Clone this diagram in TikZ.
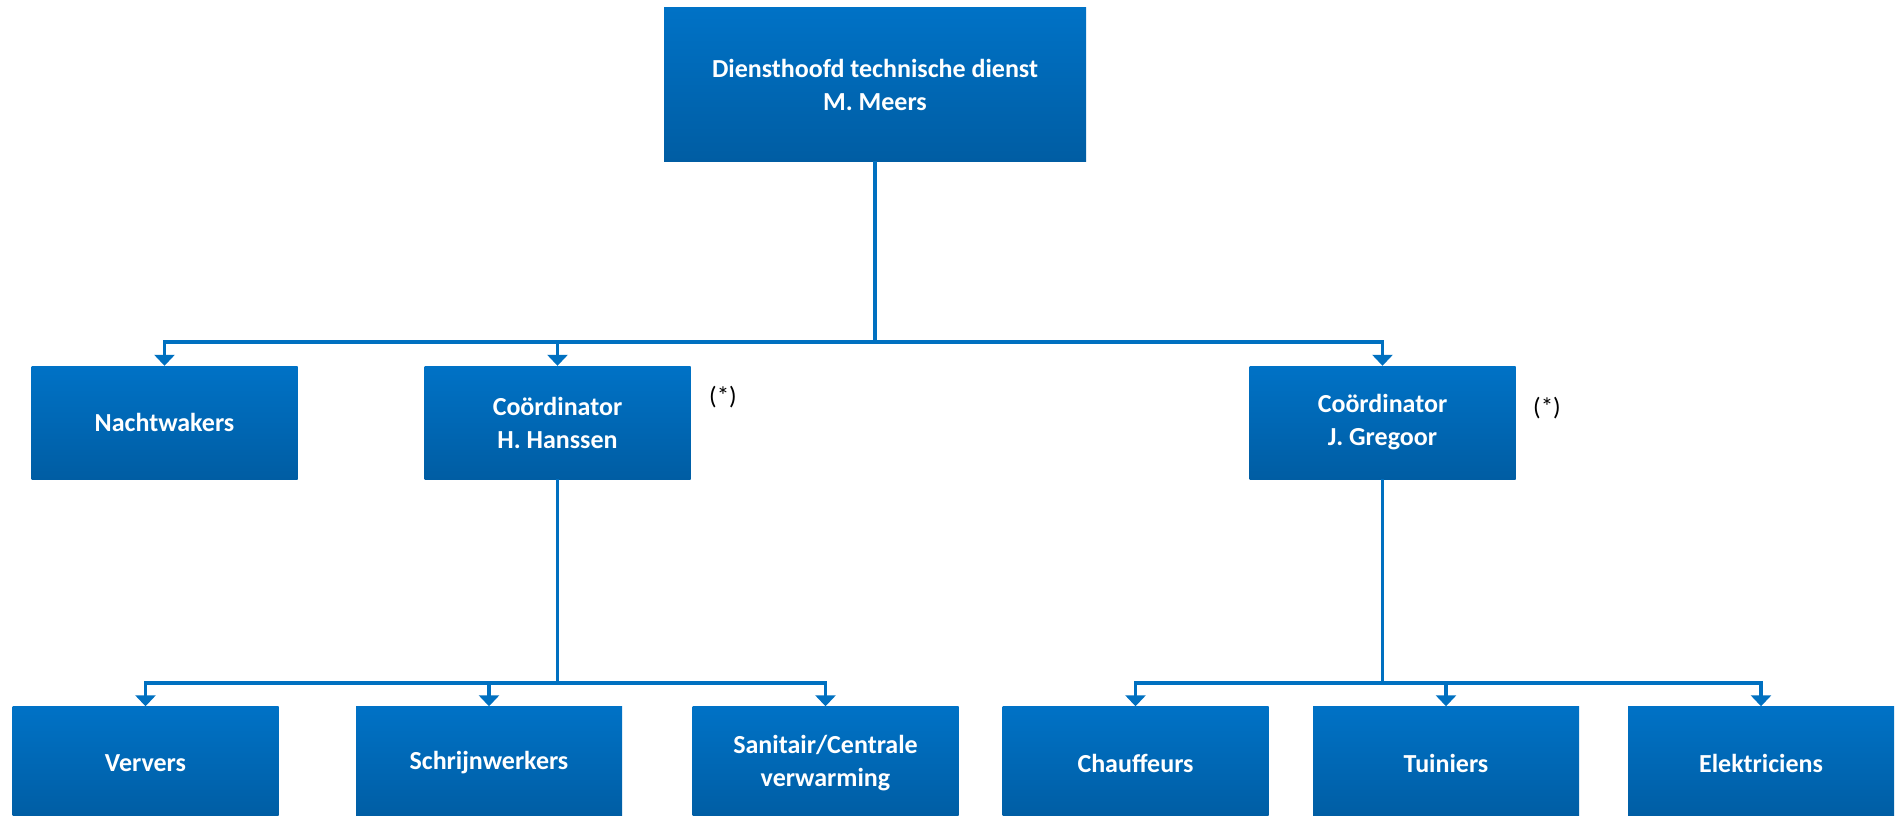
\documentclass[tikz,border=0pt]{standalone}
\usepackage{fontspec}
\setmainfont{Carlito}
\usetikzlibrary{arrows.meta}
\definecolor{orgblue}{RGB}{0,112,192}
\definecolor{orgtop}{RGB}{0,114,198}
\definecolor{orgbottom}{RGB}{0,93,163}

\begin{document}
\begin{tikzpicture}[x=1pt,y=-1pt,
    unit/.style={rectangle, minimum width=266pt, minimum height=113pt, inner sep=0pt,
      top color=orgtop, bottom color=orgbottom, text=white, align=center,
      font=\fontsize{26}{33}\selectfont\bfseries},
    link/.style={draw=orgblue, line width=3.5pt},
    linkto/.style={link, -{Triangle[width=20pt,length=11pt]}},
    note/.style={font=\fontsize{25}{28}\selectfont}]
  \useasboundingbox (0,0) rectangle (1904,816);

  % top
  \node[unit, minimum width=422pt, minimum height=153pt] (chief) at (875,84.5) {Diensthoofd technische dienst\\M. Meers};

  % second row
  \node[unit] (nacht)   at (164.5,422.5)  {Nachtwakers};
  \node[unit] (hanssen) at (557.5,422.5)  {Coördinator\\H. Hanssen};
  \node[unit] (gregoor) at (1382.5,422.5) {Coördinator\\J. Gregoor};
  \node[note] (star1) at (723,397)  {(*)};
  \node[note] (star2) at (1547,408) {(*)};

  % third row
  \node[unit] (ververs)  at (145.5,763)  {Ververs};
  \node[unit] (schrijn)  at (489,763)    {Schrijnwerkers};
  \node[unit] (sanitair) at (825.5,763)  {Sanitair/Centrale\\verwarming};
  \node[unit] (chauff)   at (1135.5,763) {Chauffeurs};
  \node[unit] (tuin)     at (1446,763)   {Tuiniers};
  \node[unit] (elek)     at (1761,763)   {Elektriciens};

  % connectors
  \coordinate (fork1) at (875,342);
  \coordinate (fork2) at (557.5,683);
  \coordinate (fork3) at (1382.5,683);
  \draw[link] (chief) -- (fork1);
  \draw[linkto] (fork1) -| (nacht);
  \draw[linkto] (fork1) -| (hanssen);
  \draw[linkto] (fork1) -| (gregoor);
  \draw[link] (hanssen) -- (fork2);
  \draw[linkto] (fork2) -| (ververs);
  \draw[linkto] (fork2) -| (schrijn);
  \draw[linkto] (fork2) -| (sanitair);
  \draw[link] (gregoor) -- (fork3);
  \draw[linkto] (fork3) -| (chauff);
  \draw[linkto] (fork3) -| (tuin);
  \draw[linkto] (fork3) -| (elek);
\end{tikzpicture}
\end{document}
